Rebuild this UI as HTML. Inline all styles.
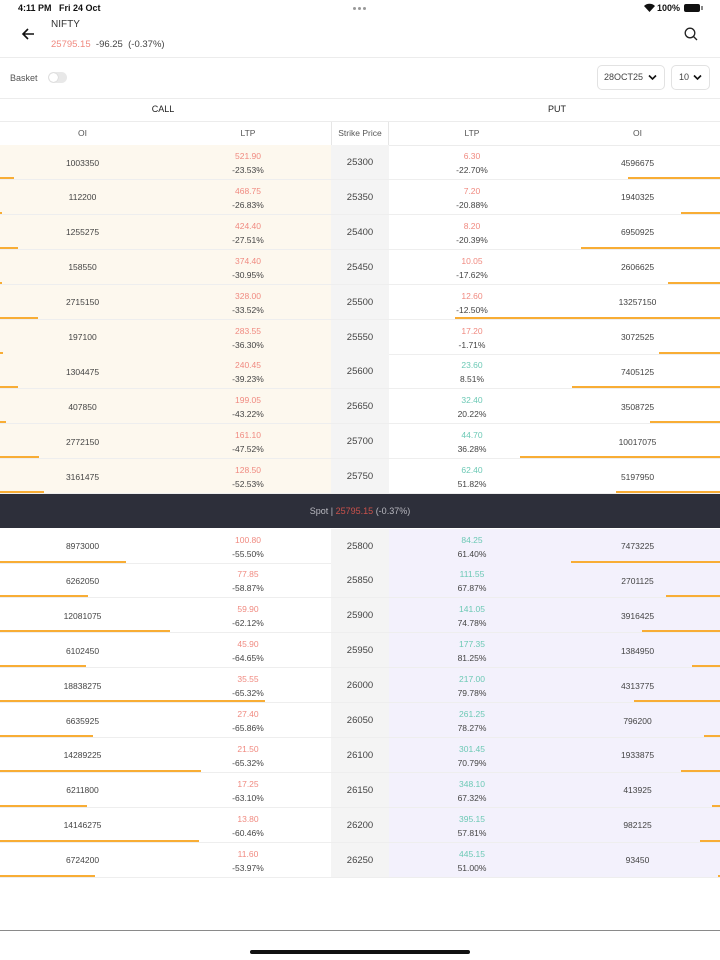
<!DOCTYPE html>
<html><head><meta charset="utf-8">
<style>
*{margin:0;padding:0;box-sizing:border-box}
body{width:720px;height:960px;background:#fff;font-family:"Liberation Sans",sans-serif;position:relative;overflow:hidden;color:#444}
.a{position:absolute}
.hl{position:absolute;left:0;width:720px;height:1px;background:#ececec}
.r{position:absolute;left:0;width:720px;height:35px;border-bottom:1px solid #eee}
.cb{position:absolute;left:0;top:0;width:331px;height:100%}
.pb{position:absolute;left:389px;top:0;width:331px;height:100%}
.cr{background:#fdf8ee}
.lv{background:#f3f1fc}
.sk{position:absolute;left:331px;top:0;width:58px;height:100%;background:#f4f4f4;text-align:center;line-height:35px;font-size:9.5px;color:#444}
.o1,.o2{position:absolute;top:10.5px;line-height:14px;font-size:8.5px;text-align:center;color:#444}
.o1{left:0;width:165px}
.o2{left:555px;width:165px}
.l1,.l2{position:absolute;top:4px;font-size:8.5px;text-align:center;line-height:14px}
.l1{left:165px;width:166px}
.l2{left:389px;width:166px}
.l1 b,.l2 b{font-weight:normal;display:block}
.l1 i,.l2 i{font-style:normal;display:block;color:#444}
.rd{color:#f08a80}
.gr{color:#6cc9b5}
.bc,.bp{position:absolute;bottom:0;height:2px;background:#f8ad35}
.bc{left:0}
.bp{right:0}
</style></head><body>

<!-- status bar -->
<div class="a" style="left:18px;top:3px;font-size:9px;font-weight:bold;color:#111;">4:11 PM&nbsp;&nbsp; Fri 24 Oct</div>
<div class="a" style="left:353px;top:7px;width:3px;height:3px;border-radius:50%;background:#999"></div>
<div class="a" style="left:358px;top:7px;width:3px;height:3px;border-radius:50%;background:#999"></div>
<div class="a" style="left:363px;top:7px;width:3px;height:3px;border-radius:50%;background:#999"></div>
<svg class="a" style="left:644px;top:3px" width="11" height="9" viewBox="0 0 11 9"><path d="M5.5 9 L0 3 A8 8 0 0 1 11 3 Z" fill="#111"/></svg>
<div class="a" style="left:657px;top:3px;font-size:9px;font-weight:bold;color:#111;">100%</div>
<div class="a" style="left:684px;top:4px;width:16px;height:8px;border-radius:2px;background:#111"></div>
<div class="a" style="left:701px;top:6px;width:1.5px;height:4px;background:#888"></div>

<!-- header -->
<svg class="a" style="left:21px;top:27px" width="14" height="14" viewBox="0 0 14 14"><path d="M13 7H2 M7 2 L2 7 L7 12" stroke="#111" stroke-width="1.6" fill="none"/></svg>
<div class="a" style="left:51px;top:19px;font-size:10px;color:#333;">NIFTY</div>
<div class="a" style="left:51px;top:39px;font-size:9.5px;color:#f08a80;">25795.15 <span style="color:#444">&nbsp;-96.25 &nbsp;(-0.37%)</span></div>
<svg class="a" style="left:684px;top:27px" width="14" height="14" viewBox="0 0 14 14"><circle cx="6" cy="6" r="4.8" stroke="#222" stroke-width="1.3" fill="none"/><path d="M9.5 9.5 L13 13" stroke="#222" stroke-width="1.3"/></svg>
<div class="hl" style="top:57px"></div>

<!-- basket row -->
<div class="a" style="left:10px;top:73px;font-size:9px;color:#555;">Basket</div>
<div class="a" style="left:48px;top:72px;width:19px;height:11px;border-radius:6px;background:#e8e8e8"></div>
<div class="a" style="left:49px;top:73px;width:9px;height:9px;border-radius:50%;background:#fff;box-shadow:0 0 1px #aaa"></div>
<div class="a" style="left:597px;top:65px;width:68px;height:25px;border:1px solid #e2e2e2;border-radius:5px"></div>
<div class="a" style="left:604px;top:72px;font-size:9px;color:#444;">28OCT25</div>
<svg class="a" style="left:648px;top:74px" width="9" height="7" viewBox="0 0 9 7"><path d="M1 1.5 L4.5 5 L8 1.5" stroke="#111" stroke-width="1.6" fill="none"/></svg>
<div class="a" style="left:671px;top:65px;width:39px;height:25px;border:1px solid #e2e2e2;border-radius:5px"></div>
<div class="a" style="left:679px;top:72px;font-size:9px;color:#444;">10</div>
<svg class="a" style="left:693px;top:74px" width="9" height="7" viewBox="0 0 9 7"><path d="M1 1.5 L4.5 5 L8 1.5" stroke="#111" stroke-width="1.6" fill="none"/></svg>
<div class="hl" style="top:98px"></div>

<!-- CALL / PUT -->
<div class="a" style="left:0;top:104px;width:326px;text-align:center;font-size:9px;color:#222;">CALL</div>
<div class="a" style="left:394px;top:104px;width:326px;text-align:center;font-size:9px;color:#222;">PUT</div>
<div class="hl" style="top:121px"></div>

<!-- column headers -->
<div class="a" style="left:0;top:128px;width:165px;text-align:center;font-size:8.5px;color:#555;">OI</div>
<div class="a" style="left:165px;top:128px;width:166px;text-align:center;font-size:8.5px;color:#555;">LTP</div>
<div class="a" style="left:331px;top:122px;width:58px;height:23px;border-left:1px solid #e6e6e6;border-right:1px solid #e6e6e6;text-align:center;line-height:23px;font-size:8.5px;color:#555;">Strike Price</div>
<div class="a" style="left:389px;top:128px;width:166px;text-align:center;font-size:8.5px;color:#555;">LTP</div>
<div class="a" style="left:555px;top:128px;width:165px;text-align:center;font-size:8.5px;color:#555;">OI</div>
<div class="hl" style="top:145px"></div>

<!-- upper rows -->
<div class="r" style="top:145px"><div class="cb cr"></div><div class="pb"></div><div class="sk">25300</div><div class="o1">1003350</div><div class="l1"><b class="rd">521.90</b><i>-23.53%</i></div><div class="l2"><b class="rd">6.30</b><i>-22.70%</i></div><div class="o2">4596675</div><div class="bc" style="width:14px"></div><div class="bp" style="width:92px"></div></div>
<div class="r" style="top:179.9px"><div class="cb cr"></div><div class="pb"></div><div class="sk">25350</div><div class="o1">112200</div><div class="l1"><b class="rd">468.75</b><i>-26.83%</i></div><div class="l2"><b class="rd">7.20</b><i>-20.88%</i></div><div class="o2">1940325</div><div class="bc" style="width:2px"></div><div class="bp" style="width:39px"></div></div>
<div class="r" style="top:214.8px"><div class="cb cr"></div><div class="pb"></div><div class="sk">25400</div><div class="o1">1255275</div><div class="l1"><b class="rd">424.40</b><i>-27.51%</i></div><div class="l2"><b class="rd">8.20</b><i>-20.39%</i></div><div class="o2">6950925</div><div class="bc" style="width:18px"></div><div class="bp" style="width:139px"></div></div>
<div class="r" style="top:249.7px"><div class="cb cr"></div><div class="pb"></div><div class="sk">25450</div><div class="o1">158550</div><div class="l1"><b class="rd">374.40</b><i>-30.95%</i></div><div class="l2"><b class="rd">10.05</b><i>-17.62%</i></div><div class="o2">2606625</div><div class="bc" style="width:2px"></div><div class="bp" style="width:52px"></div></div>
<div class="r" style="top:284.6px"><div class="cb cr"></div><div class="pb"></div><div class="sk">25500</div><div class="o1">2715150</div><div class="l1"><b class="rd">328.00</b><i>-33.52%</i></div><div class="l2"><b class="rd">12.60</b><i>-12.50%</i></div><div class="o2">13257150</div><div class="bc" style="width:38px"></div><div class="bp" style="width:265px"></div></div>
<div class="r" style="top:319.5px"><div class="cb cr"></div><div class="pb"></div><div class="sk">25550</div><div class="o1">197100</div><div class="l1"><b class="rd">283.55</b><i>-36.30%</i></div><div class="l2"><b class="rd">17.20</b><i>-1.71%</i></div><div class="o2">3072525</div><div class="bc" style="width:3px"></div><div class="bp" style="width:61px"></div></div>
<div class="r" style="top:354.4px"><div class="cb cr"></div><div class="pb"></div><div class="sk">25600</div><div class="o1">1304475</div><div class="l1"><b class="rd">240.45</b><i>-39.23%</i></div><div class="l2"><b class="gr">23.60</b><i>8.51%</i></div><div class="o2">7405125</div><div class="bc" style="width:18px"></div><div class="bp" style="width:148px"></div></div>
<div class="r" style="top:389.3px"><div class="cb cr"></div><div class="pb"></div><div class="sk">25650</div><div class="o1">407850</div><div class="l1"><b class="rd">199.05</b><i>-43.22%</i></div><div class="l2"><b class="gr">32.40</b><i>20.22%</i></div><div class="o2">3508725</div><div class="bc" style="width:6px"></div><div class="bp" style="width:70px"></div></div>
<div class="r" style="top:424.2px"><div class="cb cr"></div><div class="pb"></div><div class="sk">25700</div><div class="o1">2772150</div><div class="l1"><b class="rd">161.10</b><i>-47.52%</i></div><div class="l2"><b class="gr">44.70</b><i>36.28%</i></div><div class="o2">10017075</div><div class="bc" style="width:39px"></div><div class="bp" style="width:200px"></div></div>
<div class="r" style="top:459.1px"><div class="cb cr"></div><div class="pb"></div><div class="sk">25750</div><div class="o1">3161475</div><div class="l1"><b class="rd">128.50</b><i>-52.53%</i></div><div class="l2"><b class="gr">62.40</b><i>51.82%</i></div><div class="o2">5197950</div><div class="bc" style="width:44px"></div><div class="bp" style="width:104px"></div></div>

<!-- spot bar -->
<div class="a" style="left:0;top:494px;width:720px;height:34px;background:#2d2f3a;text-align:center;line-height:34px;font-size:9px;color:#b9b9c0;">Spot | <span style="color:#c9514b">25795.15</span> (-0.37%)</div>

<!-- lower rows -->
<div class="r" style="top:528.5px"><div class="cb"></div><div class="pb lv"></div><div class="sk">25800</div><div class="o1">8973000</div><div class="l1"><b class="rd">100.80</b><i>-55.50%</i></div><div class="l2"><b class="gr">84.25</b><i>61.40%</i></div><div class="o2">7473225</div><div class="bc" style="width:126px"></div><div class="bp" style="width:149px"></div></div>
<div class="r" style="top:563.4px"><div class="cb"></div><div class="pb lv"></div><div class="sk">25850</div><div class="o1">6262050</div><div class="l1"><b class="rd">77.85</b><i>-58.87%</i></div><div class="l2"><b class="gr">111.55</b><i>67.87%</i></div><div class="o2">2701125</div><div class="bc" style="width:88px"></div><div class="bp" style="width:54px"></div></div>
<div class="r" style="top:598.3px"><div class="cb"></div><div class="pb lv"></div><div class="sk">25900</div><div class="o1">12081075</div><div class="l1"><b class="rd">59.90</b><i>-62.12%</i></div><div class="l2"><b class="gr">141.05</b><i>74.78%</i></div><div class="o2">3916425</div><div class="bc" style="width:170px"></div><div class="bp" style="width:78px"></div></div>
<div class="r" style="top:633.2px"><div class="cb"></div><div class="pb lv"></div><div class="sk">25950</div><div class="o1">6102450</div><div class="l1"><b class="rd">45.90</b><i>-64.65%</i></div><div class="l2"><b class="gr">177.35</b><i>81.25%</i></div><div class="o2">1384950</div><div class="bc" style="width:86px"></div><div class="bp" style="width:28px"></div></div>
<div class="r" style="top:668.1px"><div class="cb"></div><div class="pb lv"></div><div class="sk">26000</div><div class="o1">18838275</div><div class="l1"><b class="rd">35.55</b><i>-65.32%</i></div><div class="l2"><b class="gr">217.00</b><i>79.78%</i></div><div class="o2">4313775</div><div class="bc" style="width:265px"></div><div class="bp" style="width:86px"></div></div>
<div class="r" style="top:703px"><div class="cb"></div><div class="pb lv"></div><div class="sk">26050</div><div class="o1">6635925</div><div class="l1"><b class="rd">27.40</b><i>-65.86%</i></div><div class="l2"><b class="gr">261.25</b><i>78.27%</i></div><div class="o2">796200</div><div class="bc" style="width:93px"></div><div class="bp" style="width:16px"></div></div>
<div class="r" style="top:737.9px"><div class="cb"></div><div class="pb lv"></div><div class="sk">26100</div><div class="o1">14289225</div><div class="l1"><b class="rd">21.50</b><i>-65.32%</i></div><div class="l2"><b class="gr">301.45</b><i>70.79%</i></div><div class="o2">1933875</div><div class="bc" style="width:201px"></div><div class="bp" style="width:39px"></div></div>
<div class="r" style="top:772.8px"><div class="cb"></div><div class="pb lv"></div><div class="sk">26150</div><div class="o1">6211800</div><div class="l1"><b class="rd">17.25</b><i>-63.10%</i></div><div class="l2"><b class="gr">348.10</b><i>67.32%</i></div><div class="o2">413925</div><div class="bc" style="width:87px"></div><div class="bp" style="width:8px"></div></div>
<div class="r" style="top:807.7px"><div class="cb"></div><div class="pb lv"></div><div class="sk">26200</div><div class="o1">14146275</div><div class="l1"><b class="rd">13.80</b><i>-60.46%</i></div><div class="l2"><b class="gr">395.15</b><i>57.81%</i></div><div class="o2">982125</div><div class="bc" style="width:199px"></div><div class="bp" style="width:20px"></div></div>
<div class="r" style="top:842.6px"><div class="cb"></div><div class="pb lv"></div><div class="sk">26250</div><div class="o1">6724200</div><div class="l1"><b class="rd">11.60</b><i>-53.97%</i></div><div class="l2"><b class="gr">445.15</b><i>51.00%</i></div><div class="o2">93450</div><div class="bc" style="width:95px"></div><div class="bp" style="width:2px"></div></div>

<!-- bottom -->
<div class="a" style="left:0;top:930px;width:720px;height:1px;background:#8a8a8a"></div>
<div class="a" style="left:250px;top:950px;width:220px;height:4px;border-radius:2px;background:#111"></div>
</body></html>
